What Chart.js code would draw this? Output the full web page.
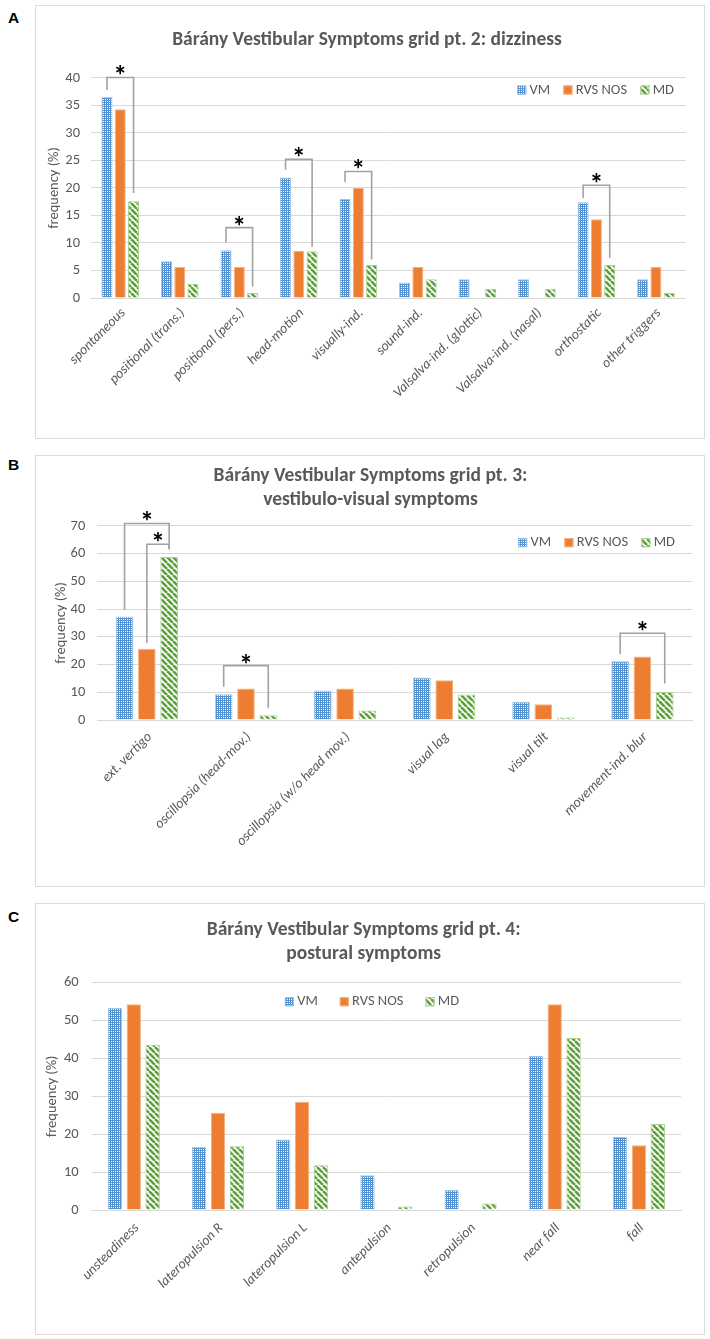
<!DOCTYPE html>
<html>
<head>
<meta charset="utf-8">
<script src="https://cdn.jsdelivr.net/npm/chart.js@4.4.1/dist/chart.umd.min.js"></script>
<style>
  body { margin: 0; background: #fff; width: 710px; height: 1339px; position: relative; overflow: hidden; }
  .panel { position: absolute; left: 35px; width: 670px; }
  .panel canvas { display: block; outline: 1px solid #dcdcdc; outline-offset: -1px; }
  .tag { position: absolute; left: 8px; font: bold 15.5px "Liberation Sans", Arial, sans-serif; line-height: 15px; color: #000; }
</style>
</head>
<body>
<div class="tag" style="top:10px">A</div>
<div class="panel" style="top:5px"><canvas id="chartA" width="670" height="434"></canvas></div>
<div class="tag" style="top:457px">B</div>
<div class="panel" style="top:455px"><canvas id="chartB" width="670" height="432"></canvas></div>
<div class="tag" style="top:909px">C</div>
<div class="panel" style="top:903px"><canvas id="chartC" width="670" height="432"></canvas></div>

<script>
// ---- data (percent of patients per group) ----
const seriesNames = ['VM', 'RVS NOS', 'MD'];

const dizzinessLabels = ['spontaneous', 'positional (trans.)', 'positional (pers.)', 'head-motion',
  'visually-ind.', 'sound-ind.', 'Valsalva-ind. (glottic)', 'Valsalva-ind. (nasal)', 'orthostatic', 'other triggers'];
const dizzinessVM  = [36.6, 6.7, 8.7, 21.9, 18.0, 2.8, 3.4, 3.4, 17.4, 3.4];
const dizzinessRVS = [34.3, 5.7, 5.7, 8.6, 20.0, 5.7, 0, 0, 14.3, 5.7];
const dizzinessMD  = [17.6, 2.6, 0.9, 8.5, 6.0, 3.4, 1.7, 1.7, 6.0, 0.9];

const visualLabels = ['ext. vertigo', 'oscillopsia (head-mov.)', 'oscillopsia (w/o head mov.)',
  'visual lag', 'visual tilt', 'movement-ind. blur'];
const visualVM  = [37.3, 9.3, 10.6, 15.3, 6.6, 21.2];
const visualRVS = [25.7, 11.4, 11.4, 14.3, 5.7, 22.9];
const visualMD  = [58.8, 1.7, 3.4, 9.2, 0.9, 10.1];

const posturalLabels = ['unsteadiness', 'lateropulsion R', 'lateropulsion L', 'antepulsion',
  'retropulsion', 'near fall', 'fall'];
const posturalVM  = [53.3, 16.7, 18.6, 9.2, 5.3, 40.7, 19.3];
const posturalRVS = [54.3, 25.7, 28.6, 0, 0, 54.3, 17.1];
const posturalMD  = [43.6, 16.8, 11.8, 0.9, 1.7, 45.4, 22.7];

// significance brackets: [category, from series, to series, bracket top, left leg end, right leg end] (in %)
const dizzinessSig = [[0, 0, 2, 40.1, 37.8, 19.1], [2, 0, 2, 12.8, 10.1, 2.1], [3, 0, 2, 25.2, 23.3, 9.3],
  [4, 0, 2, 23.0, 21.1, 7.0], [8, 0, 2, 20.5, 18.2, 7.3]];
const visualSig = [[0, 0, 2, 70.9, 39.7, 61.6], [0, 1, 2, 63.4, 27.9, 61.6],
  [1, 0, 2, 19.6, 12.0, 4.2], [5, 0, 2, 31.3, 23.7, 13.2]];

const FONT = 'Carlito, Lato, sans-serif';
const TEXT = '#595959';

function dotPattern() {
  const c = document.createElement('canvas');
  c.width = 4; c.height = 4;
  const g = c.getContext('2d');
  g.fillStyle = '#4f93d6';
  g.fillRect(0, 0, 4, 4);
  g.fillStyle = '#ffffff';
  g.fillRect(0, 0, 1, 1); g.fillRect(2, 2, 1, 1); g.fillRect(0, 2, 1, 1); g.fillRect(2, 0, 1, 1);
  return g.createPattern(c, 'repeat');
}

function stripePattern() {
  const s = 6;
  const c = document.createElement('canvas');
  c.width = s; c.height = s;
  const g = c.getContext('2d');
  g.fillStyle = '#ffffff';
  g.fillRect(0, 0, s, s);
  g.strokeStyle = '#5aa236';
  g.lineWidth = 2.6;
  g.beginPath();
  for (const k of [-s, 0, s]) { g.moveTo(k, 0); g.lineTo(k + s, s); }
  g.stroke();
  return g.createPattern(c, 'repeat');
}

const vmFill = dotPattern();
const mdFill = stripePattern();

// brackets + stars drawn from the bar positions
const bracketPlugin = {
  id: 'sigBrackets',
  afterDatasetsDraw(chart, args, opts) {
    const items = opts.items || [];
    const ctx = chart.ctx, ys = chart.scales.y;
    ctx.save();
    ctx.strokeStyle = '#a2a2a2';
    ctx.lineWidth = 1.6;
    ctx.font = 'bold 28px ' + FONT;
    ctx.fillStyle = '#000';
    ctx.textAlign = 'center';
    ctx.textBaseline = 'alphabetic';
    const m = ctx.measureText('*');
    const mid = (m.actualBoundingBoxAscent - m.actualBoundingBoxDescent) / 2;
    for (const [cat, a, b, top, endA, endB] of items) {
      const xa = chart.getDatasetMeta(a).data[cat].x;
      const xb = chart.getDatasetMeta(b).data[cat].x;
      const yt = ys.getPixelForValue(top);
      ctx.beginPath();
      ctx.moveTo(xa, ys.getPixelForValue(endA));
      ctx.lineTo(xa, yt);
      ctx.lineTo(xb, yt);
      ctx.lineTo(xb, ys.getPixelForValue(endB));
      ctx.stroke();
      ctx.fillText('*', (xa + xb) / 2, yt - 7 + mid);
    }
    ctx.restore();
  }
};

// excel-like legend sitting inside the plot
const legendPlugin = {
  id: 'boxLegend',
  afterDraw(chart, args, opts) {
    const ctx = chart.ctx;
    ctx.save();
    ctx.font = '14.5px ' + FONT;
    ctx.textAlign = 'left';
    ctx.textBaseline = 'middle';
    const box = 9, gapText = 3.3, gapItem = opts.gap || 13.3;
    const items = chart.data.datasets.map(d => ({
      text: d.label, fill: d.backgroundColor, stroke: d.borderColor, w: ctx.measureText(d.label).width
    }));
    const total = items.reduce((s, it) => s + box + gapText + it.w, 0) + gapItem * (items.length - 1);
    let x = opts.align === 'end' ? opts.x - total : opts.x - total / 2;
    for (const it of items) {
      ctx.fillStyle = it.fill;
      ctx.fillRect(x, opts.y - box / 2, box, box);
      ctx.strokeStyle = it.stroke;
      ctx.lineWidth = 1;
      ctx.strokeRect(x + 0.5, opts.y - box / 2 + 0.5, box - 1, box - 1);
      ctx.fillStyle = TEXT;
      ctx.fillText(it.text, x + box + gapText, opts.y);
      x += box + gapText + it.w + gapItem;
    }
    ctx.restore();
  }
};

function buildChart(id, cfg) {
  return new Chart(document.getElementById(id), {
    type: 'bar',
    data: {
      labels: cfg.labels,
      datasets: [
        { label: seriesNames[0], data: cfg.vm, backgroundColor: vmFill, borderColor: '#9dc3e6', borderWidth: 1 },
        { label: seriesNames[1], data: cfg.rvs, backgroundColor: '#ed7d31', borderColor: '#f4b183', borderWidth: 1 },
        { label: seriesNames[2], data: cfg.md, backgroundColor: mdFill, borderColor: '#a9d18e', borderWidth: 1 }
      ]
    },
    options: {
      responsive: false,
      animation: false,
      layout: { padding: { left: cfg.padL, right: cfg.padR, top: 0, bottom: 0 } },
      datasets: { bar: { categoryPercentage: cfg.catPct, barPercentage: cfg.barPct } },
      plugins: {
        legend: { display: false },
        tooltip: { enabled: false },
        title: {
          display: true, text: cfg.title, color: TEXT,
          font: { family: FONT, size: 19.5, weight: 'bold', lineHeight: 1.23 },
          padding: { top: cfg.titleTop, bottom: cfg.titleBottom }
        },
        sigBrackets: { items: cfg.sig || [] },
        boxLegend: cfg.legend
      },
      scales: {
        x: {
          grid: { display: false, drawTicks: false },
          border: { display: true, color: '#d9d9d9' },
          ticks: {
            color: TEXT, font: { family: FONT, size: 14, style: 'italic' },
            minRotation: 45, maxRotation: 45, autoSkip: false, padding: cfg.xPad, labelOffset: 3
          },
          afterFit: s => { s.height = cfg.xHeight; }
        },
        y: {
          min: 0, max: cfg.yMax,
          ticks: { stepSize: cfg.yStep, color: TEXT, font: { family: FONT, size: 14.5 }, padding: cfg.yPad },
          grid: { color: '#d9d9d9', drawTicks: false },
          border: { display: false },
          title: {
            display: true, text: 'frequency (%)', color: TEXT,
            font: { family: FONT, size: 14.5 }, padding: { top: cfg.yTitlePad, bottom: 0 }
          },
          afterFit: s => { s.width = cfg.yWidth; }
        }
      }
    },
    plugins: [bracketPlugin, legendPlugin]
  });
}

buildChart('chartA', {
  labels: dizzinessLabels, vm: dizzinessVM, rvs: dizzinessRVS, md: dizzinessMD, sig: dizzinessSig,
  title: 'Bárány Vestibular Symptoms grid pt. 2: dizziness',
  yMax: 40, yStep: 5,
  padL: 13.3, padR: 19.3, yWidth: 42.2, yPad: 10.5, yTitlePad: -3,
  titleTop: 23, titleBottom: 26, xHeight: 141, xPad: 7,
  catPct: 0.67, barPct: 0.83,
  legend: { align: 'end', x: 639, y: 85 }
});

buildChart('chartB', {
  labels: visualLabels, vm: visualVM, rvs: visualRVS, md: visualMD, sig: visualSig,
  title: ['Bárány Vestibular Symptoms grid pt. 3:', 'vestibulo-visual symptoms'],
  yMax: 70, yStep: 10,
  padL: 14, padR: 13, yWidth: 48.3, yPad: 12, yTitlePad: 3.3,
  titleTop: 9, titleBottom: 14, xHeight: 167, xPad: 9,
  catPct: 0.675, barPct: 0.79,
  legend: { align: 'end', x: 640, y: 87.7 }
});

buildChart('chartC', {
  labels: posturalLabels, vm: posturalVM, rvs: posturalRVS, md: posturalMD,
  title: ['Bárány Vestibular Symptoms grid pt. 4:', 'postural symptoms'],
  yMax: 60, yStep: 10,
  padL: 11.4, padR: 24, yWidth: 45.3, yPad: 13, yTitlePad: -2.6,
  titleTop: 15, titleBottom: 16.7, xHeight: 125, xPad: 10,
  catPct: 0.673, barPct: 0.76,
  legend: { align: 'center', x: 337, y: 98.7, gap: 22 }
});
</script>
</body>
</html>
